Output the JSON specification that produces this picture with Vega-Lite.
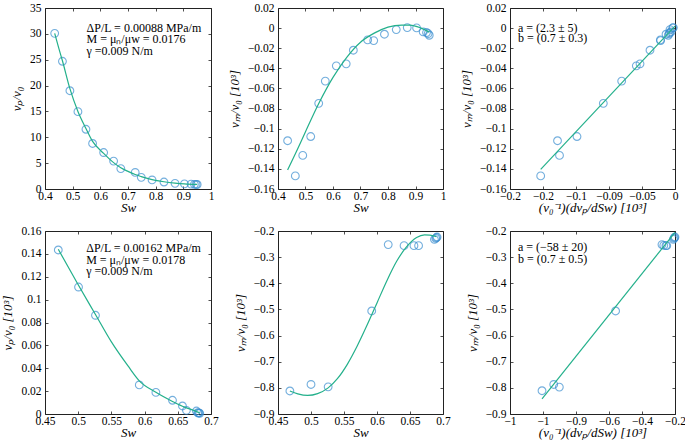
{
  "$schema": "https://vega.github.io/schema/vega-lite/v6.json",
  "autosize": {"type": "pad"},
  "padding": {"left": 1, "top": 1, "right": 0, "bottom": 0},
  "bounds": "flush",
  "columns": 3,
  "spacing": {"row": 42, "column": 67},
  "config": {
    "view": {"stroke": "#222", "strokeWidth": 1},
    "axis": {
      "domain": false, "grid": false, "tickColor": "#222", "tickSize": -3, "tickWidth": 0.8,
      "labelFont": "Liberation Serif", "labelFontSize": 11.5, "labelColor": "black", "labelPadding": 7,
      "labelFlush": false, "labelOverlap": false,
      "titleFont": "Liberation Serif", "titleFontSize": 13, "titleFontWeight": "normal", "titleFontStyle": "italic", "titleColor": "black"
    },
    "axisX": {"titlePadding": 0, "labelPadding": 4},
    "axisY": {"titlePadding": 6},
    "text": {"font": "Liberation Serif", "fontSize": 12, "color": "black", "align": "left", "baseline": "middle", "lineHeight": 11.5}
  },
  "datasets": {
    "top": [
      {"Sw": 0.435, "vp": 30.1, "vm": -0.112, "dx": -0.178},
      {"Sw": 0.463, "vp": 24.7, "vm": -0.147, "dx": -0.2035},
      {"Sw": 0.490, "vp": 19.0, "vm": -0.1266, "dx": -0.175},
      {"Sw": 0.519, "vp": 14.95, "vm": -0.1078, "dx": -0.1485},
      {"Sw": 0.548, "vp": 11.55, "vm": -0.0748, "dx": -0.1086},
      {"Sw": 0.572, "vp": 8.8, "vm": -0.0527, "dx": -0.0808},
      {"Sw": 0.612, "vp": 7.05, "vm": -0.0375, "dx": -0.0586},
      {"Sw": 0.648, "vp": 5.4, "vm": -0.0355, "dx": -0.053},
      {"Sw": 0.674, "vp": 3.95, "vm": -0.022, "dx": -0.0379},
      {"Sw": 0.726, "vp": 3.2, "vm": -0.0117, "dx": -0.0222},
      {"Sw": 0.748, "vp": 2.25, "vm": -0.0124, "dx": -0.0218},
      {"Sw": 0.787, "vp": 1.75, "vm": -0.0061, "dx": -0.0136},
      {"Sw": 0.830, "vp": 1.35, "vm": -0.0015, "dx": -0.0076},
      {"Sw": 0.870, "vp": 1.1, "vm": 0.0005, "dx": -0.0025},
      {"Sw": 0.904, "vp": 1.0, "vm": 0.0002, "dx": -0.0035},
      {"Sw": 0.928, "vp": 0.95, "vm": -0.0038, "dx": -0.006},
      {"Sw": 0.940, "vp": 0.9, "vm": -0.0044, "dx": -0.008},
      {"Sw": 0.946, "vp": 0.88, "vm": -0.0054, "dx": -0.0088},
      {"Sw": 0.950, "vp": 0.87, "vm": -0.0071, "dx": -0.0101}
    ],
    "topVpFit": [
      {"Sw": 0.435, "v": 30.1}, {"Sw": 0.45, "v": 27.2}, {"Sw": 0.463, "v": 24.8}, {"Sw": 0.49, "v": 19.4},
      {"Sw": 0.519, "v": 15.0}, {"Sw": 0.548, "v": 11.7}, {"Sw": 0.572, "v": 9.2}, {"Sw": 0.612, "v": 6.9},
      {"Sw": 0.648, "v": 5.1}, {"Sw": 0.674, "v": 4.1}, {"Sw": 0.7, "v": 3.4}, {"Sw": 0.726, "v": 2.8},
      {"Sw": 0.748, "v": 2.4}, {"Sw": 0.787, "v": 1.8}, {"Sw": 0.83, "v": 1.4}, {"Sw": 0.87, "v": 1.15},
      {"Sw": 0.904, "v": 1.0}, {"Sw": 0.95, "v": 0.9}
    ],
    "topVmFit": [
      {"Sw": 0.435, "v": -0.141}, {"Sw": 0.47, "v": -0.121}, {"Sw": 0.5, "v": -0.103}, {"Sw": 0.55, "v": -0.074},
      {"Sw": 0.6, "v": -0.049}, {"Sw": 0.65, "v": -0.029}, {"Sw": 0.7, "v": -0.014}, {"Sw": 0.75, "v": -0.005},
      {"Sw": 0.8, "v": 0.001}, {"Sw": 0.85, "v": 0.003}, {"Sw": 0.88, "v": 0.003}, {"Sw": 0.92, "v": 0.0},
      {"Sw": 0.95, "v": -0.004}
    ],
    "topLine": [{"dx": -0.2035, "v": -0.1405}, {"dx": 0, "v": 0.002}],
    "botL": [
      {"Sw": 0.470, "vp": 0.1434}, {"Sw": 0.5005, "vp": 0.111}, {"Sw": 0.526, "vp": 0.0863},
      {"Sw": 0.592, "vp": 0.0254}, {"Sw": 0.617, "vp": 0.0189}, {"Sw": 0.642, "vp": 0.012},
      {"Sw": 0.657, "vp": 0.007}, {"Sw": 0.663, "vp": 0.0032}, {"Sw": 0.678, "vp": 0.0026},
      {"Sw": 0.680, "vp": 0.0012}, {"Sw": 0.681, "vp": 0.0008}, {"Sw": 0.682, "vp": 0.001}, {"Sw": 0.683, "vp": 0.0006}
    ],
    "botLFit": [
      {"Sw": 0.47, "v": 0.144}, {"Sw": 0.5, "v": 0.113}, {"Sw": 0.526, "v": 0.087}, {"Sw": 0.55, "v": 0.063},
      {"Sw": 0.575, "v": 0.042}, {"Sw": 0.592, "v": 0.029}, {"Sw": 0.617, "v": 0.019}, {"Sw": 0.642, "v": 0.011},
      {"Sw": 0.66, "v": 0.006}, {"Sw": 0.675, "v": 0.003}, {"Sw": 0.683, "v": 0.001}
    ],
    "botM": [
      {"Sw": 0.468, "vm": -0.812}, {"Sw": 0.500, "vm": -0.787}, {"Sw": 0.526, "vm": -0.796},
      {"Sw": 0.592, "vm": -0.506}, {"Sw": 0.617, "vm": -0.252}, {"Sw": 0.641, "vm": -0.256},
      {"Sw": 0.656, "vm": -0.256}, {"Sw": 0.663, "vm": -0.256}, {"Sw": 0.687, "vm": -0.232},
      {"Sw": 0.689, "vm": -0.228}, {"Sw": 0.690, "vm": -0.225}, {"Sw": 0.691, "vm": -0.223}
    ],
    "botMFit": [
      {"Sw": 0.468, "v": -0.812}, {"Sw": 0.48, "v": -0.823}, {"Sw": 0.495, "v": -0.829}, {"Sw": 0.51, "v": -0.822},
      {"Sw": 0.526, "v": -0.8}, {"Sw": 0.54, "v": -0.765}, {"Sw": 0.555, "v": -0.71}, {"Sw": 0.57, "v": -0.64},
      {"Sw": 0.585, "v": -0.56}, {"Sw": 0.6, "v": -0.475}, {"Sw": 0.615, "v": -0.39}, {"Sw": 0.63, "v": -0.315},
      {"Sw": 0.645, "v": -0.26}, {"Sw": 0.66, "v": -0.225}, {"Sw": 0.672, "v": -0.215}, {"Sw": 0.68, "v": -0.216},
      {"Sw": 0.69, "v": -0.222}
    ],
    "botR": [
      {"dx": -1.006, "vm": -0.811}, {"dx": -0.935, "vm": -0.787}, {"dx": -0.901, "vm": -0.797},
      {"dx": -0.56, "vm": -0.506}, {"dx": -0.279, "vm": -0.252}, {"dx": -0.268, "vm": -0.255},
      {"dx": -0.255, "vm": -0.256}, {"dx": -0.25, "vm": -0.256}, {"dx": -0.21, "vm": -0.232},
      {"dx": -0.206, "vm": -0.228}, {"dx": -0.203, "vm": -0.225}, {"dx": -0.2, "vm": -0.223}
    ],
    "botLine": [{"dx": -1.006, "v": -0.842}, {"dx": -0.2, "v": -0.205}],
    "one": [{}]
  },
  "concat": [
    {
      "width": 166, "height": 181,
      "resolve": {"axis": {"x": "independent", "y": "independent"}},
      "layer": [
        {
          "data": {"name": "top"},
          "mark": {"type": "point", "shape": "circle", "filled": false, "color": "#3a8ed0", "size": 60, "strokeWidth": 1.1},
          "encoding": {
            "x": {"field": "Sw", "type": "quantitative", "scale": {"domain": [0.4, 1], "nice": false, "zero": false},
                  "axis": {"values": [0.4, 0.5, 0.6, 0.7, 0.8, 0.9, 1], "format": "~g", "title": "Sw"}},
            "y": {"field": "vp", "type": "quantitative", "scale": {"domain": [0, 35], "nice": false},
                  "axis": {"values": [0, 5, 10, 15, 20, 25, 30, 35], "format": "~g", "title": "vₚ/v₀"}}
          }
        },
        {
          "data": {"name": "topVpFit"},
          "mark": {"type": "line", "color": "#23b08b", "strokeWidth": 1.2, "interpolate": "monotone"},
          "encoding": {
            "x": {"field": "Sw", "type": "quantitative", "axis": {"orient": "top", "values": [0.4, 0.5, 0.6, 0.7, 0.8, 0.9, 1], "labels": false, "title": null}},
            "y": {"field": "v", "type": "quantitative", "axis": {"orient": "right", "values": [0, 5, 10, 15, 20, 25, 30, 35], "labels": false, "title": null}}
          }
        },
        {
          "data": {"name": "one"},
          "mark": {"type": "text", "text": ["ΔP/L = 0.00088 MPa/m", "M = μₙ/μw = 0.0176", "γ =0.009 N/m"]},
          "encoding": {
            "x": {"datum": 0.55, "type": "quantitative", "axis": null},
            "y": {"datum": 31.2, "type": "quantitative", "axis": null}
          }
        }
      ]
    },
    {
      "width": 165, "height": 181,
      "resolve": {"axis": {"x": "independent", "y": "independent"}},
      "layer": [
        {
          "data": {"name": "top"},
          "mark": {"type": "point", "shape": "circle", "filled": false, "color": "#3a8ed0", "size": 60, "strokeWidth": 1.1},
          "encoding": {
            "x": {"field": "Sw", "type": "quantitative", "scale": {"domain": [0.4, 1], "nice": false, "zero": false},
                  "axis": {"values": [0.4, 0.5, 0.6, 0.7, 0.8, 0.9, 1], "format": "~g", "title": "Sw"}},
            "y": {"field": "vm", "type": "quantitative", "scale": {"domain": [-0.16, 0.02], "nice": false, "zero": false},
                  "axis": {"values": [-0.16, -0.14, -0.12, -0.1, -0.08, -0.06, -0.04, -0.02, 0, 0.02], "format": "~g", "title": "vₘ/v₀ [10³]"}}
          }
        },
        {
          "data": {"name": "topVmFit"},
          "mark": {"type": "line", "color": "#23b08b", "strokeWidth": 1.2, "interpolate": "monotone"},
          "encoding": {
            "x": {"field": "Sw", "type": "quantitative", "axis": {"orient": "top", "values": [0.4, 0.5, 0.6, 0.7, 0.8, 0.9, 1], "labels": false, "title": null}},
            "y": {"field": "v", "type": "quantitative", "axis": {"orient": "right", "values": [-0.16, -0.14, -0.12, -0.1, -0.08, -0.06, -0.04, -0.02, 0, 0.02], "labels": false, "title": null}}
          }
        }
      ]
    },
    {
      "width": 165, "height": 181,
      "resolve": {"axis": {"x": "independent", "y": "independent"}},
      "layer": [
        {
          "data": {"name": "top"},
          "mark": {"type": "point", "shape": "circle", "filled": false, "color": "#3a8ed0", "size": 60, "strokeWidth": 1.1},
          "encoding": {
            "x": {"field": "dx", "type": "quantitative", "scale": {"domain": [-0.25, 0], "nice": false, "zero": false},
                  "axis": {"values": [-0.25, -0.2, -0.15, -0.1, -0.05, 0],
                           "labelExpr": "datum.value < -0.22 ? '−0.2' : datum.value < -0.17 ? '−0.2' : datum.value < -0.12 ? '−0.1' : datum.value < -0.07 ? '−0.09' : datum.value < -0.02 ? '−0.05' : '0'",
                           "title": "(v₀⁻¹)(dvₚ/dSw) [10³]"}},
            "y": {"field": "vm", "type": "quantitative", "scale": {"domain": [-0.16, 0.02], "nice": false, "zero": false},
                  "axis": {"values": [-0.16, -0.14, -0.12, -0.1, -0.08, -0.06, -0.04, -0.02, 0, 0.02], "format": "~g", "title": "vₘ/v₀ [10³]"}}
          }
        },
        {
          "data": {"name": "topLine"},
          "mark": {"type": "line", "color": "#23b08b", "strokeWidth": 1.2},
          "encoding": {
            "x": {"field": "dx", "type": "quantitative", "axis": {"orient": "top", "values": [-0.25, -0.2, -0.15, -0.1, -0.05, 0], "labels": false, "title": null}},
            "y": {"field": "v", "type": "quantitative", "axis": {"orient": "right", "values": [-0.16, -0.14, -0.12, -0.1, -0.08, -0.06, -0.04, -0.02, 0, 0.02], "labels": false, "title": null}}
          }
        },
        {
          "data": {"name": "one"},
          "mark": {"type": "text", "text": ["a = (2.3 ± 5)", "b = (0.7 ± 0.3)"], "lineHeight": 10.5},
          "encoding": {
            "x": {"datum": -0.238, "type": "quantitative", "axis": null},
            "y": {"datum": 0.0005, "type": "quantitative", "axis": null}
          }
        }
      ]
    },
    {
      "width": 166, "height": 183,
      "resolve": {"axis": {"x": "independent", "y": "independent"}},
      "layer": [
        {
          "data": {"name": "botL"},
          "mark": {"type": "point", "shape": "circle", "filled": false, "color": "#3a8ed0", "size": 60, "strokeWidth": 1.1},
          "encoding": {
            "x": {"field": "Sw", "type": "quantitative", "scale": {"domain": [0.45, 0.7], "nice": false, "zero": false},
                  "axis": {"values": [0.45, 0.5, 0.55, 0.6, 0.65, 0.7], "format": "~g", "title": "Sw"}},
            "y": {"field": "vp", "type": "quantitative", "scale": {"domain": [0, 0.16], "nice": false},
                  "axis": {"values": [0, 0.02, 0.04, 0.06, 0.08, 0.1, 0.12, 0.14, 0.16], "format": "~g", "title": "vₚ/v₀ [10³]"}}
          }
        },
        {
          "data": {"name": "botLFit"},
          "mark": {"type": "line", "color": "#23b08b", "strokeWidth": 1.2, "interpolate": "monotone"},
          "encoding": {
            "x": {"field": "Sw", "type": "quantitative", "axis": {"orient": "top", "values": [0.45, 0.5, 0.55, 0.6, 0.65, 0.7], "labels": false, "title": null}},
            "y": {"field": "v", "type": "quantitative", "axis": {"orient": "right", "values": [0, 0.02, 0.04, 0.06, 0.08, 0.1, 0.12, 0.14, 0.16], "labels": false, "title": null}}
          }
        },
        {
          "data": {"name": "one"},
          "mark": {"type": "text", "text": ["ΔP/L = 0.00162 MPa/m", "M = μₙ/μw = 0.0178", "γ =0.009 N/m"]},
          "encoding": {
            "x": {"datum": 0.512, "type": "quantitative", "axis": null},
            "y": {"datum": 0.145, "type": "quantitative", "axis": null}
          }
        }
      ]
    },
    {
      "width": 165, "height": 183,
      "resolve": {"axis": {"x": "independent", "y": "independent"}},
      "layer": [
        {
          "data": {"name": "botM"},
          "mark": {"type": "point", "shape": "circle", "filled": false, "color": "#3a8ed0", "size": 60, "strokeWidth": 1.1},
          "encoding": {
            "x": {"field": "Sw", "type": "quantitative", "scale": {"domain": [0.45, 0.7], "nice": false, "zero": false},
                  "axis": {"values": [0.45, 0.5, 0.55, 0.6, 0.65, 0.7], "format": "~g", "title": "Sw"}},
            "y": {"field": "vm", "type": "quantitative", "scale": {"domain": [-0.9, -0.2], "nice": false, "zero": false},
                  "axis": {"values": [-0.9, -0.8, -0.7, -0.6, -0.5, -0.4, -0.3, -0.2], "format": "~g", "title": "vₘ/v₀ [10³]"}}
          }
        },
        {
          "data": {"name": "botMFit"},
          "mark": {"type": "line", "color": "#23b08b", "strokeWidth": 1.2, "interpolate": "monotone"},
          "encoding": {
            "x": {"field": "Sw", "type": "quantitative", "axis": {"orient": "top", "values": [0.45, 0.5, 0.55, 0.6, 0.65, 0.7], "labels": false, "title": null}},
            "y": {"field": "v", "type": "quantitative", "axis": {"orient": "right", "values": [-0.9, -0.8, -0.7, -0.6, -0.5, -0.4, -0.3, -0.2], "labels": false, "title": null}}
          }
        }
      ]
    },
    {
      "width": 165, "height": 183,
      "resolve": {"axis": {"x": "independent", "y": "independent"}},
      "layer": [
        {
          "data": {"name": "botR"},
          "mark": {"type": "point", "shape": "circle", "filled": false, "color": "#3a8ed0", "size": 60, "strokeWidth": 1.1},
          "encoding": {
            "x": {"field": "dx", "type": "quantitative", "scale": {"domain": [-1.2, -0.2], "nice": false, "zero": false},
                  "axis": {"values": [-1.2, -1, -0.8, -0.6, -0.4, -0.2],
                           "labelExpr": "datum.value < -1.1 ? '−1' : datum.value < -0.9 ? '−1' : datum.value < -0.7 ? '−0.9' : datum.value < -0.5 ? '−0.6' : datum.value < -0.3 ? '−0.4' : '−0.2'",
                           "title": "(v₀⁻¹)(dvₚ/dSw) [10³]"}},
            "y": {"field": "vm", "type": "quantitative", "scale": {"domain": [-0.9, -0.2], "nice": false, "zero": false},
                  "axis": {"values": [-0.9, -0.8, -0.7, -0.6, -0.5, -0.4, -0.3, -0.2], "format": "~g", "title": "vₘ/v₀ [10³]"}}
          }
        },
        {
          "data": {"name": "botLine"},
          "mark": {"type": "line", "color": "#23b08b", "strokeWidth": 1.2},
          "encoding": {
            "x": {"field": "dx", "type": "quantitative", "axis": {"orient": "top", "values": [-1.2, -1, -0.8, -0.6, -0.4, -0.2], "labels": false, "title": null}},
            "y": {"field": "v", "type": "quantitative", "axis": {"orient": "right", "values": [-0.9, -0.8, -0.7, -0.6, -0.5, -0.4, -0.3, -0.2], "labels": false, "title": null}}
          }
        },
        {
          "data": {"name": "one"},
          "mark": {"type": "text", "text": ["a = (−58 ± 20)", "b = (0.7 ± 0.5)"], "lineHeight": 12},
          "encoding": {
            "x": {"datum": -1.152, "type": "quantitative", "axis": null},
            "y": {"datum": -0.262, "type": "quantitative", "axis": null}
          }
        }
      ]
    }
  ]
}
